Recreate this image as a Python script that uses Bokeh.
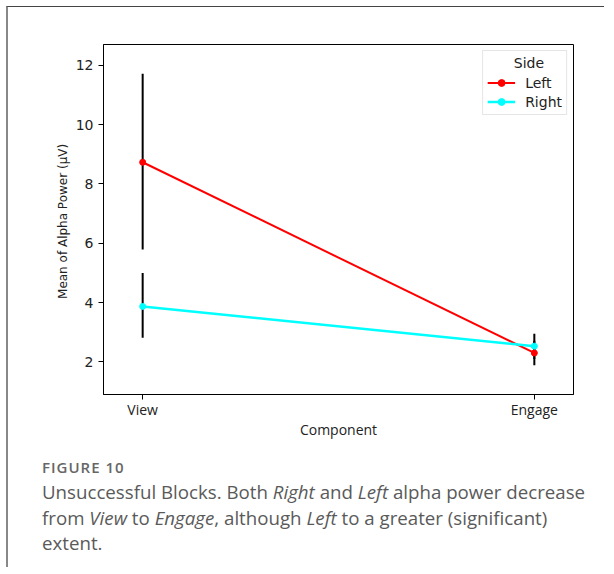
from bokeh.plotting import figure
from bokeh.models import Range1d, FixedTicker, Div, Legend, LegendItem
from bokeh.layouts import column
from bokeh.embed import file_html
from bokeh.resources import INLINE

components = ["View", "Engage"]
sides = ["Left", "Right"]
left_mean = [8.73, 2.30]
left_lo = [5.79, 1.89]
left_hi = [11.71, 2.71]
right_mean = [3.87, 2.53]
right_lo = [2.81, 2.10]
right_hi = [5.00, 2.95]
y_ticks = [2, 4, 6, 8, 10, 12]
colors = {"Left": "#ff0000", "Right": "#00ffff"}

xs = list(range(len(components)))

p = figure(width=598, height=440, output_backend="svg", toolbar_location=None,
           x_range=Range1d(-0.1, 1.1), y_range=Range1d(0.9, 12.7),
           min_border_left=95, min_border_right=31, min_border_top=37, min_border_bottom=53)
p.background_fill_color = "white"
p.border_fill_color = "white"
p.outline_line_color = "black"
p.outline_line_width = 1
p.xgrid.visible = False
p.ygrid.visible = False

# error bars
p.segment(x0=xs, x1=xs, y0=left_lo, y1=left_hi, line_color="black", line_width=2)
p.segment(x0=xs, x1=xs, y0=right_lo, y1=right_hi, line_color="black", line_width=2)

rl = p.line(xs, left_mean, line_color=colors["Left"], line_width=2)
rs = p.scatter(xs, left_mean, size=6, fill_color=colors["Left"], line_color=colors["Left"])
cl = p.line(xs, right_mean, line_color=colors["Right"], line_width=2.5)
cs = p.scatter(xs, right_mean, size=6, fill_color=colors["Right"], line_color=colors["Right"])

legend = Legend(items=[LegendItem(label=sides[0], renderers=[rl, rs]),
                       LegendItem(label=sides[1], renderers=[cl, cs])],
                location="top_right", title="\u00a0\u00a0\u00a0\u00a0\u00a0\u00a0Side")
legend.title_text_font = "DejaVu Sans"
legend.title_text_font_size = "14px"
legend.title_text_font_style = "normal"
legend.title_text_color = "#222222"
legend.label_text_font = "DejaVu Sans"
legend.label_text_font_size = "14px"
legend.label_text_color = "#222222"
legend.border_line_color = "#cccccc"
legend.border_line_width = 1
legend.margin = 6
legend.padding = 4
legend.spacing = 2
legend.glyph_width = 28
legend.glyph_height = 17
legend.label_height = 17
legend.label_standoff = 10
legend.title_standoff = 3
legend.background_fill_alpha = 0.8
p.add_layout(legend)

for ax in (p.xaxis[0], p.yaxis[0]):
    ax.axis_line_color = "black"
    ax.major_tick_line_color = "black"
    ax.major_tick_out = 5
    ax.major_tick_in = 0
    ax.minor_tick_line_color = None
    ax.major_label_text_color = "#222222"
    ax.axis_label_text_color = "#222222"
    ax.axis_label_text_font_style = "normal"

p.yaxis.ticker = FixedTicker(ticks=y_ticks)
p.yaxis.major_label_text_font = "DejaVu Sans"
p.yaxis.major_label_text_font_size = "14px"
p.yaxis.major_label_standoff = 5
p.yaxis.axis_label = "Mean of Alpha Power  (\u03bcV)"
p.yaxis.axis_label_text_font = "DejaVu Sans"
p.yaxis.axis_label_text_font_size = "12px"
p.yaxis.axis_label_standoff = 3

p.xaxis.ticker = FixedTicker(ticks=xs)
p.xaxis.major_label_overrides = {i: c for i, c in enumerate(components)}
p.xaxis.major_label_text_font = "Open Sans"
p.xaxis.major_label_text_font_size = "14px"
p.xaxis.major_label_standoff = 0
p.xaxis.axis_label = "Component"
p.xaxis.axis_label_text_font = "Open Sans"
p.xaxis.axis_label_text_font_size = "14px"
p.xaxis.axis_label_standoff = -2

caption = Div(
    text=("<div style='font-family:\"Open Sans\";color:#666;font-size:15px;font-weight:600;"
          "letter-spacing:1px;line-height:20px;margin-top:5px'>FIGURE 10</div>"
          "<div style='font-family:\"Open Sans\";color:#5a5a5a;font-size:18.7px;line-height:25.5px;"
          "white-space:nowrap;margin-top:2px'>"
          "Unsuccessful Blocks. Both <i>Right</i> and <i>Left</i> alpha power decrease<br>"
          "from <i>View</i> to <i>Engage</i>, although <i>Left</i> to a greater (significant)<br>"
          "extent.</div>"),
    width=564, height=110, styles={"padding-left": "29px"})

inner = column(p, caption, width=598,
               styles={"border-left": "2px solid #888888", "border-top": "1.5px solid #444444",
                       "background-color": "white"})
layout = column(inner, width=606, styles={"padding-left": "6px", "padding-top": "6px",
                                          "background-color": "white"})

open("out.html", "w").write(file_html(layout, INLINE))
